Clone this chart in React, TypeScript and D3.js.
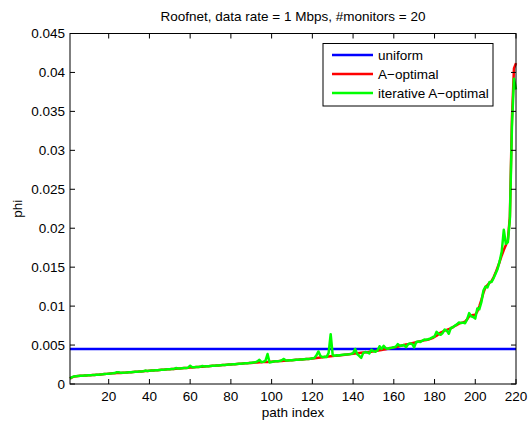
import React from 'react';
import * as d3 from 'd3';

// phi per path index (1..220)
const aOptimal = [
  0.00070, 0.00085, 0.00095, 0.00100, 0.00103, 0.00105, 0.00107, 0.00108, 0.00110, 0.00111,
  0.00113, 0.00115, 0.00116, 0.00118, 0.00120, 0.00122, 0.00124, 0.00127, 0.00130, 0.00133,
  0.00135, 0.00137, 0.00139, 0.00140, 0.00141, 0.00142, 0.00144, 0.00146, 0.00148, 0.00150,
  0.00152, 0.00154, 0.00156, 0.00158, 0.00160, 0.00162, 0.00164, 0.00166, 0.00168, 0.00170,
  0.00172, 0.00174, 0.00176, 0.00178, 0.00180, 0.00182, 0.00184, 0.00186, 0.00188, 0.00190,
  0.00192, 0.00194, 0.00196, 0.00198, 0.00200, 0.00202, 0.00204, 0.00206, 0.00208, 0.00211,
  0.00213, 0.00215, 0.00217, 0.00219, 0.00221, 0.00223, 0.00225, 0.00227, 0.00229, 0.00231,
  0.00233, 0.00235, 0.00237, 0.00239, 0.00241, 0.00243, 0.00245, 0.00247, 0.00249, 0.00251,
  0.00253, 0.00255, 0.00257, 0.00259, 0.00261, 0.00263, 0.00265, 0.00267, 0.00269, 0.00271,
  0.00273, 0.00275, 0.00277, 0.00279, 0.00280, 0.00281, 0.00283, 0.00284, 0.00286, 0.00287,
  0.00289, 0.00291, 0.00292, 0.00294, 0.00296, 0.00298, 0.00300, 0.00302, 0.00304, 0.00306,
  0.00308, 0.00310, 0.00312, 0.00314, 0.00316, 0.00318, 0.00320, 0.00322, 0.00325, 0.00328,
  0.00331, 0.00334, 0.00337, 0.00340, 0.00343, 0.00346, 0.00349, 0.00352, 0.00355, 0.00358,
  0.00361, 0.00364, 0.00367, 0.00370, 0.00373, 0.00376, 0.00379, 0.00382, 0.00385, 0.00388,
  0.00391, 0.00394, 0.00397, 0.00400, 0.00403, 0.00406, 0.00409, 0.00412, 0.00415, 0.00419,
  0.00423, 0.00427, 0.00432, 0.00437, 0.00442, 0.00447, 0.00452, 0.00458, 0.00464, 0.00470,
  0.00476, 0.00482, 0.00488, 0.00494, 0.00500, 0.00506, 0.00512, 0.00518, 0.00524, 0.00530,
  0.00536, 0.00542, 0.00548, 0.00554, 0.00560, 0.00566, 0.00572, 0.00580, 0.00590, 0.00605,
  0.00620, 0.00640, 0.00660, 0.00672, 0.00685, 0.00695, 0.00705, 0.00715, 0.00730, 0.00745,
  0.00760, 0.00775, 0.00785, 0.00790, 0.00800, 0.00830, 0.00870, 0.00880, 0.00885, 0.00890,
  0.00930, 0.01000, 0.01080, 0.01170, 0.01240, 0.01270, 0.01300, 0.01320, 0.01370, 0.01430,
  0.01500, 0.01570, 0.01650, 0.01720, 0.01780, 0.01850, 0.02150, 0.03400, 0.04050, 0.04120,
];

const iterative = [
  0.00072, 0.00088, 0.00098, 0.00101, 0.00103, 0.00105, 0.00106, 0.00108, 0.00110, 0.00112,
  0.00113, 0.00114, 0.00116, 0.00118, 0.00120, 0.00122, 0.00124, 0.00127, 0.00130, 0.00133,
  0.00135, 0.00137, 0.00140, 0.00152, 0.00150, 0.00143, 0.00144, 0.00146, 0.00148, 0.00150,
  0.00152, 0.00154, 0.00156, 0.00158, 0.00160, 0.00162, 0.00164, 0.00172, 0.00168, 0.00170,
  0.00172, 0.00174, 0.00176, 0.00178, 0.00180, 0.00182, 0.00184, 0.00186, 0.00188, 0.00190,
  0.00192, 0.00194, 0.00205, 0.00198, 0.00200, 0.00202, 0.00204, 0.00206, 0.00210, 0.00235,
  0.00216, 0.00215, 0.00217, 0.00219, 0.00221, 0.00232, 0.00225, 0.00227, 0.00229, 0.00231,
  0.00233, 0.00235, 0.00237, 0.00239, 0.00241, 0.00243, 0.00245, 0.00247, 0.00249, 0.00251,
  0.00253, 0.00255, 0.00257, 0.00259, 0.00261, 0.00263, 0.00265, 0.00267, 0.00269, 0.00274,
  0.00276, 0.00278, 0.00290, 0.00310, 0.00282, 0.00285, 0.00300, 0.00385, 0.00275, 0.00282,
  0.00289, 0.00291, 0.00293, 0.00296, 0.00305, 0.00322, 0.00302, 0.00302, 0.00304, 0.00306,
  0.00308, 0.00310, 0.00312, 0.00314, 0.00316, 0.00318, 0.00320, 0.00322, 0.00325, 0.00330,
  0.00335, 0.00368, 0.00418, 0.00360, 0.00345, 0.00350, 0.00345, 0.00400, 0.00640, 0.00370,
  0.00362, 0.00370, 0.00366, 0.00372, 0.00375, 0.00378, 0.00380, 0.00382, 0.00387, 0.00395,
  0.00450, 0.00385, 0.00362, 0.00335, 0.00400, 0.00410, 0.00405, 0.00392, 0.00440, 0.00420,
  0.00415, 0.00430, 0.00485, 0.00450, 0.00490, 0.00460, 0.00452, 0.00462, 0.00465, 0.00472,
  0.00478, 0.00512, 0.00490, 0.00495, 0.00500, 0.00472, 0.00510, 0.00520, 0.00515, 0.00470,
  0.00540, 0.00545, 0.00540, 0.00556, 0.00570, 0.00568, 0.00575, 0.00585, 0.00600, 0.00610,
  0.00670, 0.00645, 0.00632, 0.00655, 0.00700, 0.00685, 0.00645, 0.00720, 0.00728, 0.00750,
  0.00765, 0.00790, 0.00782, 0.00788, 0.00780, 0.00830, 0.00910, 0.00870, 0.00860, 0.00840,
  0.00970, 0.00960, 0.01050, 0.01200, 0.01250, 0.01240, 0.01310, 0.01310, 0.01360, 0.01420,
  0.01480, 0.01580, 0.01700, 0.01980, 0.01800, 0.01820, 0.02120, 0.03300, 0.03920, 0.03780,
];

const uniformPhi = 0.0045;

const xTicks = [20, 40, 60, 80, 100, 120, 140, 160, 180, 200, 220];
const yTicks = [0, 0.005, 0.01, 0.015, 0.02, 0.025, 0.03, 0.035, 0.04, 0.045];

const legendItems = [
  { label: 'uniform', color: '#0000ff' },
  { label: 'A\u2212optimal', color: '#ff0000' },
  { label: 'iterative A\u2212optimal', color: '#00ff00' },
];

const W = 529;
const H = 425;
const left = 70;
const right = 516;
const top = 33.5;
const bottom = 384;
const font = 'Liberation Sans, Arial, Helvetica, sans-serif';
const fs = 13.5;

export default function App() {
  const x = d3.scaleLinear().domain([1, aOptimal.length]).range([left, right]);
  const y = d3.scaleLinear().domain([0, 0.045]).range([bottom, top]);

  const line = d3.line<number>()
    .x((_, i) => x(i + 1))
    .y(d => y(d));

  const tickLen = 5;

  return (
    <svg width={W} height={H} style={{ position: 'absolute', left: 0, top: 0, background: '#fff' }}
      fontFamily={font}>
      <rect x={0} y={0} width={W} height={H} fill="#fff" />

      {/* data */}
      <line x1={x(1)} x2={x(aOptimal.length)} y1={y(uniformPhi)} y2={y(uniformPhi)}
        stroke="#0000ff" strokeWidth={2.5} />
      <path d={line(aOptimal) ?? ''} fill="none" stroke="#ff0000" strokeWidth={2.5} strokeLinejoin="round" />
      <path d={line(iterative) ?? ''} fill="none" stroke="#00ff00" strokeWidth={2.5} strokeLinejoin="round" />

      {/* frame */}
      <rect x={left} y={top} width={right - left} height={bottom - top} fill="none" stroke="#000" strokeWidth={1} />

      {/* x ticks */}
      {xTicks.map(t => (
        <g key={'x' + t}>
          <line x1={x(t)} x2={x(t)} y1={bottom} y2={bottom - tickLen} stroke="#000" />
          <line x1={x(t)} x2={x(t)} y1={top} y2={top + tickLen} stroke="#000" />
          <text x={x(t)} y={bottom + 17} textAnchor="middle" fontSize={fs} fill="#000">{t}</text>
        </g>
      ))}

      {/* y ticks */}
      {yTicks.map(t => (
        <g key={'y' + t}>
          <line x1={left} x2={left + tickLen} y1={y(t)} y2={y(t)} stroke="#000" />
          <line x1={right} x2={right - tickLen} y1={y(t)} y2={y(t)} stroke="#000" />
          <text x={left - 5} y={y(t) + 4.5} textAnchor="end" fontSize={fs} fill="#000">{d3.format('~g')(t)}</text>
        </g>
      ))}

      {/* labels */}
      <text x={(left + right) / 2} y={21} textAnchor="middle" fontSize={fs} fill="#000">
        Roofnet, data rate = 1 Mbps, #monitors = 20
      </text>
      <text x={(left + right) / 2} y={417} textAnchor="middle" fontSize={fs} fill="#000">path index</text>
      <text transform={`translate(22, ${(top + bottom) / 2}) rotate(-90)`} textAnchor="middle"
        fontSize={fs} fill="#000">phi</text>

      {/* legend */}
      <rect x={323} y={43.5} width={170} height={62.5} fill="#fff" stroke="#000" strokeWidth={1} />
      {legendItems.map((d, i) => (
        <g key={d.label}>
          <line x1={332} x2={373} y1={55 + i * 19} y2={55 + i * 19} stroke={d.color} strokeWidth={2.5} />
          <text x={378} y={55 + i * 19 + 4.5} fontSize={fs} fill="#000">{d.label}</text>
        </g>
      ))}
    </svg>
  );
}
